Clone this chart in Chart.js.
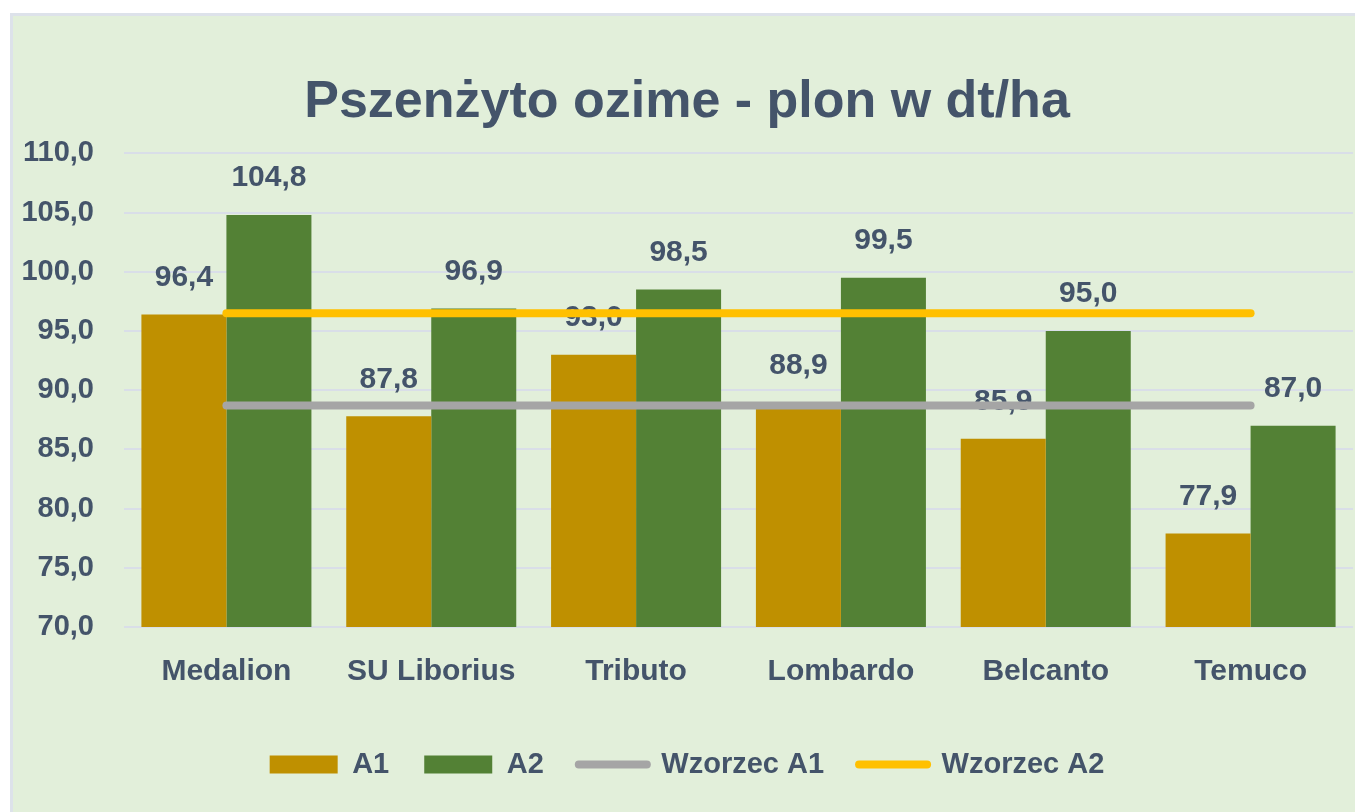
<!DOCTYPE html>
<html>
<head>
<meta charset="utf-8">
<script src="https://cdn.jsdelivr.net/npm/chart.js@4/dist/chart.umd.min.js"></script>
<style>
    html, body { margin: 0; padding: 0; background: #ffffff; }
    #box {
        position: absolute; left: 10px; top: 13px;
        width: 1342px; height: 796px;
        background: #e2efda;
        border-top: 3px solid #dde2ea;
        border-left: 3px solid #dde2ea;
    }
    #chart { display: block; }
</style>
</head>
<body>
<div id="box"><canvas id="chart" width="1342" height="796"></canvas></div>
<script>
// chart data
const varieties = ['Medalion', 'SU Liborius', 'Tributo', 'Lombardo', 'Belcanto', 'Temuco'];
const a1 = [96.4, 87.8, 93.0, 88.9, 85.9, 77.9];
const a2 = [104.8, 96.9, 98.5, 99.5, 95.0, 87.0];
const wzorzecA1 = [88.7, 88.7, 88.7, 88.7, 88.7, 88.7];
const wzorzecA2 = [96.5, 96.5, 96.5, 96.5, 96.5, 96.5];
const yMin = 70;
const yMax = 110;
const yStep = 5;

const textColor = '#44546a';
const fontFamily = '"Liberation Sans", Arial, sans-serif';
const fmt = v => Number(v).toFixed(1).replace('.', ',');

// value labels over bars, drawn before the line datasets so lines sit on top
const barLabels = {
    id: 'barLabels',
    afterDatasetDraw(chart, args) {
        const meta = args.meta;
        if (meta.type !== 'bar') return;
        const ctx = chart.ctx;
        const data = chart.data.datasets[args.index].data;
        ctx.save();
        ctx.font = 'bold 30px ' + fontFamily;
        ctx.fillStyle = textColor;
        ctx.textAlign = 'center';
        ctx.textBaseline = 'middle';
        meta.data.forEach((bar, i) => {
            ctx.fillText(fmt(data[i]), bar.x, bar.y - 37);
        });
        ctx.restore();
    }
};

const ctx = document.getElementById('chart').getContext('2d');
new Chart(ctx, {
    type: 'bar',
    data: {
        labels: varieties,
        datasets: [
            { label: 'A1', data: a1, backgroundColor: '#bf9000', order: 1,
              categoryPercentage: 0.83, barPercentage: 1 },
            { label: 'A2', data: a2, backgroundColor: '#538135', order: 1,
              categoryPercentage: 0.83, barPercentage: 1 },
            { type: 'line', label: 'Wzorzec A1', data: wzorzecA1, borderColor: '#a5a5a5',
              borderWidth: 8, borderCapStyle: 'round', pointRadius: 0, order: 0 },
            { type: 'line', label: 'Wzorzec A2', data: wzorzecA2, borderColor: '#ffc000',
              borderWidth: 8, borderCapStyle: 'round', pointRadius: 0, order: 0 }
        ]
    },
    options: {
        responsive: false,
        animation: false,
        layout: { padding: { left: 8, right: 2, top: 0, bottom: 23 } },
        plugins: {
            title: {
                display: true,
                text: 'Pszenżyto ozime - plon w dt/ha',
                color: textColor,
                font: { family: fontFamily, size: 52, weight: 'bold' },
                padding: { top: 55, bottom: 20 }
            },
            legend: {
                position: 'bottom',
                labels: {
                    color: textColor,
                    font: { family: fontFamily, size: 29, weight: 'bold' },
                    usePointStyle: true,
                    pointStyleWidth: 68,
                    boxHeight: 18,
                    padding: 35,
                    sort: (a, b) => a.datasetIndex - b.datasetIndex,
                    generateLabels(chart) {
                        const items = Chart.defaults.plugins.legend.labels.generateLabels(chart);
                        items.forEach(it => {
                            const ds = chart.data.datasets[it.datasetIndex];
                            if (ds.type === 'line') {
                                it.pointStyle = 'line';
                                it.lineWidth = 8;
                                it.lineCap = 'round';
                                it.strokeStyle = ds.borderColor;
                            } else {
                                it.pointStyle = 'rect';
                                it.fillStyle = ds.backgroundColor;
                                it.lineWidth = 0;
                            }
                        });
                        return items;
                    }
                }
            },
            tooltip: { enabled: false }
        },
        scales: {
            x: {
                grid: { display: false },
                border: { display: false },
                ticks: {
                    color: textColor,
                    padding: 19,
                    font: { family: fontFamily, size: 30, weight: 'bold' }
                },
                afterFit(scale) { scale.height += 6; }
            },
            y: {
                min: yMin,
                max: yMax,
                border: { display: false },
                grid: { color: '#d9dee8', lineWidth: 2, drawTicks: false },
                ticks: {
                    stepSize: yStep,
                    color: textColor,
                    padding: 30,
                    font: { family: fontFamily, size: 29, weight: 'bold' },
                    callback: v => fmt(v)
                },
                afterFit(scale) { scale.width = 103; }
            }
        }
    },
    plugins: [barLabels]
});
</script>
</body>
</html>
